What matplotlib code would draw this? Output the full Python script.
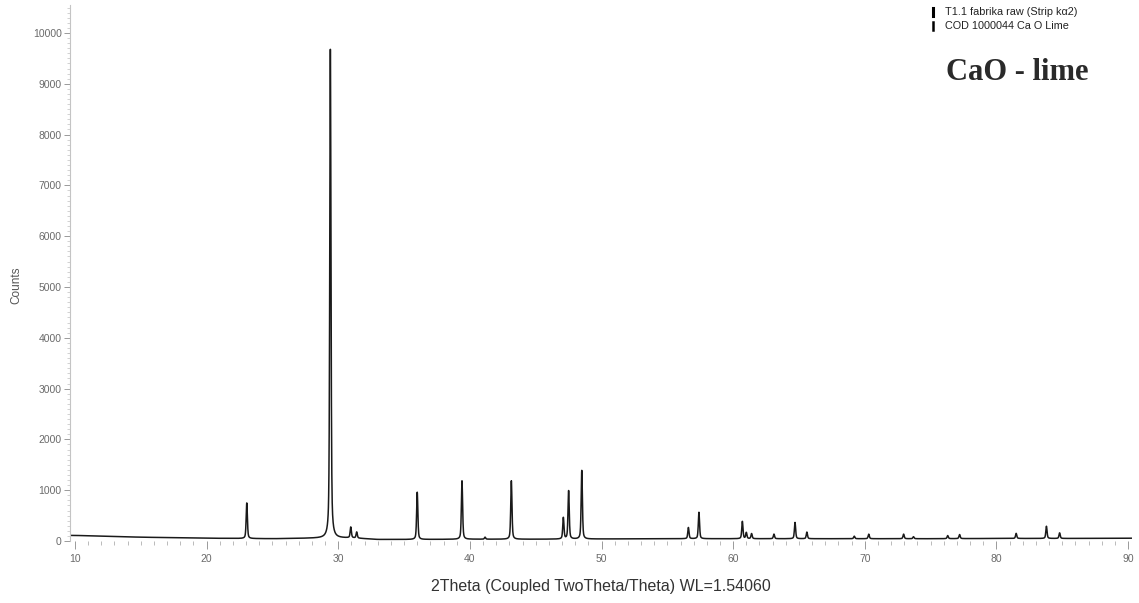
import numpy as np
import matplotlib
matplotlib.use("Agg")
import matplotlib.pyplot as plt
from matplotlib.lines import Line2D
from matplotlib.ticker import MultipleLocator

plt.rcParams["font.family"] = ["Liberation Sans", "DejaVu Sans"]

# background counts under the pattern (2theta, counts)
bg_angle = [10, 12, 15, 20, 25, 28, 31, 33, 36, 40, 45, 50, 55, 60, 65, 70, 75, 80, 85, 90]
bg_counts = [110, 95, 75, 55, 45, 55, 60, 30, 30, 35, 35, 40, 45, 45, 45, 45, 45, 50, 50, 55]

# reflections: position (deg 2theta) and net height (counts)
peak_pos = [23.05, 29.40, 30.95, 31.40, 36.00, 39.40, 41.15, 43.15, 47.10, 47.50,
            48.50, 56.60, 57.40, 60.70, 61.00, 61.40, 63.10, 64.70, 65.60, 69.20,
            70.30, 72.95, 73.70, 76.30, 77.20, 81.50, 83.80, 84.80]
peak_height = [700, 9620, 210, 120, 930, 1150, 40, 1150, 420, 950,
               1350, 220, 520, 340, 120, 100, 90, 320, 130, 50,
               90, 90, 40, 60, 80, 100, 240, 110]
peak_fwhm = 0.11

legend_rows = ["T1.1 fabrika raw (Strip kα2)", "COD 1000044 Ca O Lime"]


def pattern(two_theta):
    counts = np.interp(two_theta, bg_angle, bg_counts)
    for pos, h in zip(peak_pos, peak_height):
        d = (two_theta - pos) / (peak_fwhm / 2)
        lor = 1.0 / (1.0 + d ** 2)
        gau = np.exp(-np.log(2) * d ** 2)
        counts = counts + h * (0.5 * lor + 0.5 * gau)
    return counts


tth = np.arange(9.65, 90.25, 0.01)
counts = pattern(tth)

W, H = 1139, 603
fig = plt.figure(figsize=(W / 100, H / 100), dpi=100)
ax = fig.add_axes([70 / W, 1 - 541 / H, (1132 - 70) / W, (541 - 5) / H])

ax.plot(tth, counts, color="#1a1a1a", lw=1.1)

ax.set_xlim(9.62, 90.30)
ax.set_ylim(0, 10550)

for s in ("top", "right", "bottom"):
    ax.spines[s].set_visible(False)
ax.spines["left"].set_color("#c4c4c4")
ax.spines["left"].set_linewidth(0.8)

ax.xaxis.set_major_locator(MultipleLocator(10))
ax.xaxis.set_minor_locator(MultipleLocator(1))
ax.yaxis.set_major_locator(MultipleLocator(1000))
ax.yaxis.set_minor_locator(MultipleLocator(100))
ax.set_xticks(np.arange(10, 91, 10))
ax.set_yticks(np.arange(0, 10001, 1000))

ax.tick_params(axis="x", which="major", length=6, width=0.7, color="#9a9a9a",
               labelsize=7.5, labelcolor="#6a6a6a", pad=3)
ax.tick_params(axis="x", which="minor", length=3, width=0.6, color="#b0b0b0")
ax.tick_params(axis="y", which="major", length=4, width=0.7, color="#9a9a9a",
               labelsize=7.5, labelcolor="#6a6a6a", pad=2)
ax.tick_params(axis="y", which="minor", length=2, width=0.5, color="#c0c0c0")

ax.set_xlabel("2Theta (Coupled TwoTheta/Theta) WL=1.54060", fontsize=11.5,
              color="#333333")
ax.xaxis.set_label_coords((601 - 70) / (1132 - 70), -(579 - 541) / (541 - 5))
ax.set_ylabel("Counts", fontsize=8.5, color="#555555")
ax.yaxis.set_label_coords(-(70 - 22) / (1132 - 70), (541 - 285) / (541 - 5))

# scan / reference legend in the top right corner
for i, row in enumerate(legend_rows):
    y = 1 - (12 + 14 * i) / H
    fig.add_artist(Line2D([933 / W, 933 / W], [y - 4 / H, y + 4 / H],
                          color="black", lw=2.2 if i == 0 else 1.8))
    fig.text(945 / W, y, row, fontsize=7.8, color="#222222", va="center", ha="left")

fig.text(946 / W, 1 - 73 / H, "CaO - lime", fontsize=22, fontweight="bold",
         family=["Liberation Serif", "DejaVu Serif"], color="#2a2a2a",
         va="center", ha="left")

fig.savefig("out.png", dpi=100)
